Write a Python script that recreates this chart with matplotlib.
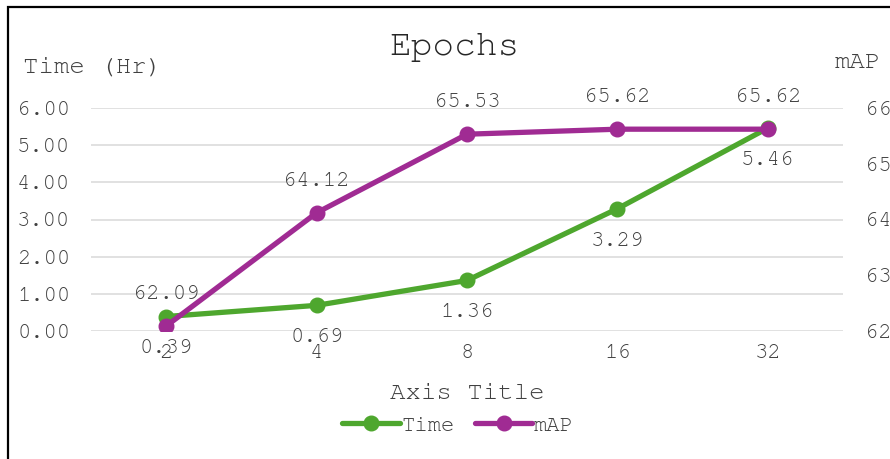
import matplotlib
matplotlib.use('Agg')
import matplotlib.pyplot as plt
from matplotlib.patches import Rectangle
import logging

logging.getLogger('matplotlib.font_manager').setLevel(logging.ERROR)

# data
epochs = ['2', '4', '8', '16', '32']
time_hr = [0.39, 0.69, 1.36, 3.29, 5.46]
map_vals = [62.09, 64.12, 65.53, 65.62, 65.62]

left_ticks = [0, 1, 2, 3, 4, 5, 6]
right_ticks = [62, 63, 64, 65, 66]

GREEN = '#4EA72E'
PURPLE = '#A02B93'
TXT = '#404040'

# Courier-like if present, else the metric-compatible Liberation Mono
plt.rcParams['font.family'] = ['Courier New', 'Nimbus Mono PS', 'FreeMono',
                               'Liberation Mono', 'DejaVu Sans']

W, H = 890, 459
fig = plt.figure(figsize=(W / 100, H / 100), dpi=100)

def fx(px):
    return px / W

def fy(py):
    return 1 - py / H

ax = fig.add_axes([fx(91), fy(331), fx(843) - fx(91), fy(108) - fy(331)])
ax2 = ax.twinx()

x = list(range(len(epochs)))

ax.plot(x, time_hr, color=GREEN, lw=3.8, marker='o', ms=10.5, zorder=3,
        solid_capstyle='round', label='Time')
ax2.plot(x, map_vals, color=PURPLE, lw=3.8, marker='o', ms=10.5, zorder=3,
         solid_capstyle='round', label='mAP')

ax.set_xlim(-0.5, len(epochs) - 0.5)
ax.set_ylim(0, 6)
ax2.set_ylim(62, 66)
ax.set_xticks(x)
ax.set_xticklabels(epochs)
ax.set_yticks(left_ticks)
ax.set_yticklabels([f'{v:.2f}' for v in left_ticks])
ax2.set_yticks(right_ticks)
ax2.set_yticklabels([f'{v:.2f}' for v in right_ticks])

ax.grid(True, axis='y', color='#d9d9d9', lw=1.1)
ax.set_axisbelow(True)
for a in (ax, ax2):
    for s in a.spines.values():
        s.set_visible(False)
ax.tick_params(axis='y', length=0, pad=15, labelsize=16, labelcolor=TXT)
ax.tick_params(axis='x', length=0, pad=9, labelsize=16, labelcolor=TXT)
ax2.tick_params(axis='y', length=0, pad=16, labelsize=16, labelcolor=TXT)
ax2.set_zorder(ax.get_zorder() + 1)
ax2.patch.set_visible(False)

# data labels
for xi, v in zip(x, time_hr):
    ax.annotate(f'{v:.2f}', (xi, v), xytext=(0, -23), textcoords='offset points',
                ha='center', va='center', fontsize=16, color=TXT, zorder=5)
for xi, v in zip(x, map_vals):
    ax2.annotate(f'{v:.2f}', (xi, v), xytext=(0, 23), textcoords='offset points',
                 ha='center', va='center', fontsize=16, color=TXT, zorder=5)

# titles
fig.text(fx(455), fy(48), 'Epochs', ha='center', va='center', fontsize=26, color='#262626')
fig.text(fx(23), fy(68), 'Time (Hr)', ha='left', va='center', fontsize=18.5, color=TXT)
fig.text(fx(835), fy(63), 'mAP', ha='left', va='center', fontsize=18.5, color=TXT)
fig.text(fx(467), fy(394), 'Axis Title', ha='center', va='center', fontsize=18.5, color=TXT)

h1, l1 = ax.get_legend_handles_labels()
h2, l2 = ax2.get_legend_handles_labels()
fig.legend(h1 + h2, l1 + l2, loc='center', bbox_to_anchor=(fx(458), fy(425)),
           ncol=2, frameon=False, fontsize=16, handlelength=2.6, handletextpad=0.05,
           columnspacing=0.9, labelcolor=TXT)

# chart border (cropped at right/bottom)
fig.patches.append(Rectangle((fx(8), -0.1), 1.2, fy(7) + 0.1, transform=fig.transFigure,
                             fill=False, edgecolor='black', lw=1.6))

fig.savefig('out.png', dpi=100)
